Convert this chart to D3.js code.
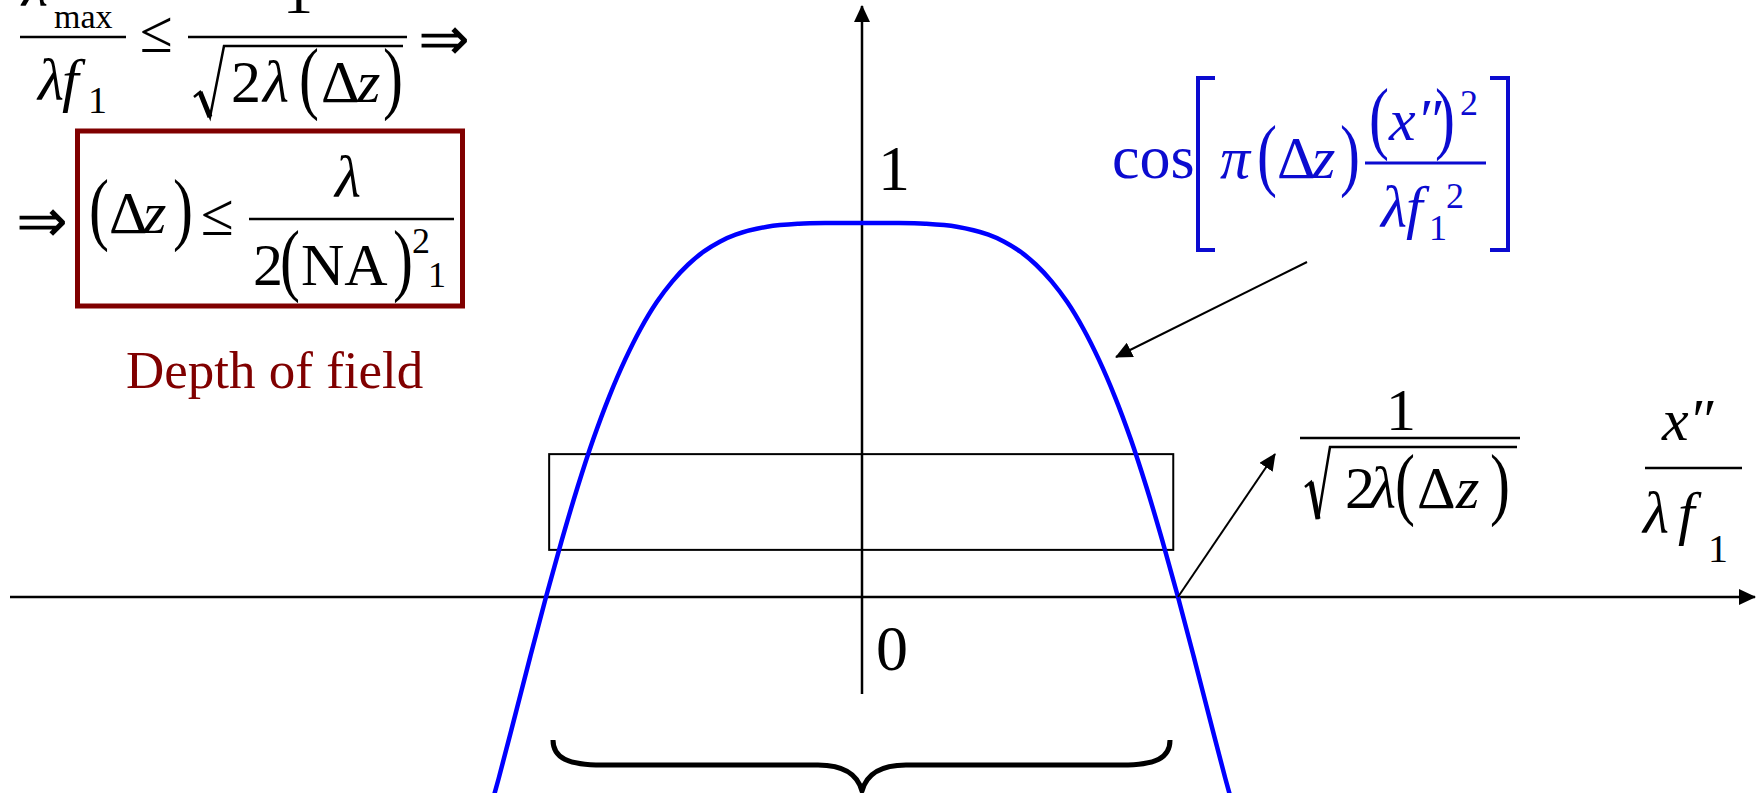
<!DOCTYPE html>
<html>
<head>
<meta charset="utf-8">
<script src="https://cdn.jsdelivr.net/npm/d3@7"></script>
<style>
  html, body { margin: 0; padding: 0; background: #fff; overflow: hidden; }
  svg { display: block; }
  text { font-family: "Liberation Serif", "Times New Roman", serif; }
</style>
</head>
<body>
<svg id="fig" width="1760" height="793"></svg>
<script>
// Pupil coordinate x''/(λ f1), normalised so the first zero of the defocus term sits at ±1
const pupilU = [-1.2, -1.15, -1.1, -1.05, -1.0, -0.95, -0.9, -0.85, -0.8, -0.75, -0.7, -0.65, -0.6, -0.55, -0.5, -0.45, -0.4,
                -0.3, -0.2, -0.1, 0, 0.1, 0.2, 0.3,
                0.4, 0.45, 0.5, 0.55, 0.6, 0.65, 0.7, 0.75, 0.8, 0.85, 0.9, 0.95, 1.0, 1.05, 1.1, 1.15, 1.2];
// Defocus transfer term cos[π(Δz)(x'')²/(λ f1²)] at those coordinates
const defocusTerm = [-0.637, -0.486, -0.324, -0.160, 0.000, 0.152, 0.294, 0.423, 0.536, 0.634, 0.718, 0.788, 0.844, 0.889, 0.924, 0.950, 0.969,
                     0.990, 0.998, 1.000, 1.000, 1.000, 0.998, 0.990,
                     0.969, 0.950, 0.924, 0.889, 0.844, 0.788, 0.718, 0.634, 0.536, 0.423, 0.294, 0.152, 0.000, -0.160, -0.324, -0.486, -0.637];
// Band marked by the rectangle (level range of the 1/sqrt(2λΔz) cut-off) and its half-width
const bandLevels = [0.126, 0.382];
const bandHalfWidth = [-0.99, 0.985];
const tickLabels = ["0", "1"];

const W = 1760, H = 793;
const svg = d3.select("#fig");
svg.append("rect").attr("width", W).attr("height", H).attr("fill", "#fff");

const x = d3.scaleLinear().domain([0, 1]).range([862, 1178]);
const y = d3.scaleLinear().domain([0, 1]).range([597, 223]);

const BLUE_TEXT = "#0b0bd0";
const MAROON = "#800000";

const defs = svg.append("defs");
defs.append("marker")
  .attr("id", "head")
  .attr("markerUnits", "userSpaceOnUse")
  .attr("markerWidth", 18).attr("markerHeight", 16)
  .attr("refX", 16).attr("refY", 8)
  .attr("orient", "auto")
  .append("path").attr("d", "M0,0 L17,8 L0,16 Z").attr("fill", "#000");

// axes
svg.append("line")
  .attr("x1", 10).attr("x2", 1755).attr("y1", y(0)).attr("y2", y(0))
  .attr("stroke", "#000").attr("stroke-width", 2.5).attr("marker-end", "url(#head)");
svg.append("line")
  .attr("x1", x(0)).attr("x2", x(0)).attr("y1", 694).attr("y2", 6)
  .attr("stroke", "#000").attr("stroke-width", 2.5).attr("marker-end", "url(#head)");

// band rectangle
svg.append("rect")
  .attr("x", x(bandHalfWidth[0])).attr("y", y(bandLevels[1]))
  .attr("width", x(bandHalfWidth[1]) - x(bandHalfWidth[0]))
  .attr("height", y(bandLevels[0]) - y(bandLevels[1]))
  .attr("fill", "none").attr("stroke", "#000").attr("stroke-width", 2);

// defocus curve
const pts = pupilU.map((u, i) => [u, defocusTerm[i]]);
svg.append("path")
  .datum(pts)
  .attr("d", d3.line().x(d => x(d[0])).y(d => y(d[1])).curve(d3.curveCatmullRom.alpha(0.5)))
  .attr("fill", "none").attr("stroke", "#0000ff").attr("stroke-width", 4.5);

// annotation arrows
svg.append("line").attr("x1", 1307).attr("y1", 262).attr("x2", 1116).attr("y2", 357)
  .attr("stroke", "#000").attr("stroke-width", 2).attr("marker-end", "url(#head)");
svg.append("line").attr("x1", x(1)).attr("y1", y(0)).attr("x2", 1275).attr("y2", 454)
  .attr("stroke", "#000").attr("stroke-width", 2).attr("marker-end", "url(#head)");

// brace under the flat region
svg.append("path")
  .attr("d", "M553,740 C553,758 568,765 602,765 L818,765 C845,765 858,776 862,791 " +
             "C866,776 879,765 906,765 L1122,765 C1156,765 1170,758 1170,740")
  .attr("fill", "none").attr("stroke", "#000").attr("stroke-width", 5).attr("stroke-linejoin", "round");

// text helpers
function tx(str, px, py, size, o = {}) {
  const n = svg.append("text").attr("x", px).attr("y", py).attr("font-size", size)
    .attr("fill", o.fill || "#000").text(str);
  if (o.it) n.attr("font-style", "italic");
  if (o.fam) n.attr("font-family", o.fam);
  if (o.bold) n.attr("font-weight", "bold");
  return n;
}
// tall delimiter: a regular parenthesis stretched vertically about its baseline
function paren(str, px, py, fill = "#000") {
  svg.append("text").attr("transform", `translate(${px},${py}) scale(1,1.35)`)
    .attr("font-size", 60).attr("fill", fill).text(str);
}
function bar(x1, x2, yy, w = 2.5, col = "#000") {
  svg.append("line").attr("x1", x1).attr("x2", x2).attr("y1", yy).attr("y2", yy)
    .attr("stroke", col).attr("stroke-width", w);
}
// radical sign: hook, heavy down-stroke, thin up-stroke and vinculum
function radical(hx, hy, bx, by, tx0, ty, ex) {
  svg.append("path").attr("d", `M${hx},${hy} L${hx + 6},${hy - 5} L${bx},${by} L${tx0},${ty} L${ex},${ty}`)
    .attr("fill", "none").attr("stroke", "#000").attr("stroke-width", 2.5).attr("stroke-linejoin", "miter");
  svg.append("path").attr("d", `M${hx + 6},${hy - 5} L${bx},${by}`)
    .attr("fill", "none").attr("stroke", "#000").attr("stroke-width", 5);
}
const ARW = "Noto Sans CJK JP";

// tick labels
tx(tickLabels[1], 878, 190, 64);
tx(tickLabels[0], 876, 670, 64);

// top-left: x_max/(λ f1) ≤ 1/sqrt(2λ(Δz)) ⇒
bar(20, 126, 37);
tx("λ", 22, 6, 60, { it: true });
tx("max", 54, 28, 34);
tx("λ", 38, 100, 60, { it: true });
tx("f", 62, 100, 60, { it: true });
tx("1", 88, 113, 38);
tx("≤", 140, 52, 60);
bar(188, 407, 37);
tx("1", 283, 13, 60);
radical(194, 97, 210, 117, 224, 46, 403);
tx("2", 231, 102, 60);
tx("λ", 263, 102, 60, { it: true });
paren("(", 299, 104);
tx("Δ", 321, 102, 60);
tx("z", 357, 102, 60, { it: true });
paren(")", 383, 104);
tx("⇒", 418, 60, 62, { fam: ARW });

// second line: ⇒ [(Δz) ≤ λ / 2(NA)²₁]
tx("⇒", 16, 242, 62, { fam: ARW });
svg.append("rect").attr("x", 77.5).attr("y", 131).attr("width", 385).attr("height", 175)
  .attr("fill", "none").attr("stroke", MAROON).attr("stroke-width", 5);
paren("(", 89, 235);
tx("Δ", 109, 233, 60);
tx("z", 143, 233, 60, { it: true });
paren(")", 173, 235);
tx("≤", 201, 235, 60);
bar(249, 454, 219);
tx("λ", 335, 197, 60, { it: true });
tx("2", 253, 285, 60);
paren("(", 280, 286);
tx("NA", 301, 285, 60);
paren(")", 393, 286);
tx("2", 412, 253, 36);
tx("1", 428, 287, 36);
tx("Depth of field", 126, 388, 53, { fill: MAROON });

// blue label: cos[π(Δz)(x'')²/(λ f1²)]
tx("cos", 1112, 178, 62, { fill: BLUE_TEXT });
svg.append("path").attr("d", "M1215,78 L1198,78 L1198,250 L1215,250")
  .attr("fill", "none").attr("stroke", BLUE_TEXT).attr("stroke-width", 4);
svg.append("path").attr("d", "M1490,78 L1508,78 L1508,250 L1490,250")
  .attr("fill", "none").attr("stroke", BLUE_TEXT).attr("stroke-width", 4);
tx("π", 1220, 178, 60, { it: true, fill: BLUE_TEXT });
paren("(", 1257, 181, BLUE_TEXT);
tx("Δ", 1277, 178, 60, { fill: BLUE_TEXT });
tx("z", 1312, 178, 60, { it: true, fill: BLUE_TEXT });
paren(")", 1340, 181, BLUE_TEXT);
bar(1365, 1486, 163, 3, BLUE_TEXT);
paren("(", 1369, 144, BLUE_TEXT);
tx("x", 1389, 140, 60, { it: true, fill: BLUE_TEXT });
tx("″", 1420, 140, 60, { fill: BLUE_TEXT });
paren(")", 1435, 144, BLUE_TEXT);
tx("2", 1460, 115, 36, { fill: BLUE_TEXT });
tx("λ", 1381, 227, 60, { it: true, fill: BLUE_TEXT });
tx("f", 1406, 227, 60, { it: true, fill: BLUE_TEXT });
tx("1", 1429, 240, 36, { fill: BLUE_TEXT });
tx("2", 1446, 208, 36, { fill: BLUE_TEXT });

// right label: 1/sqrt(2λ(Δz))
tx("1", 1386, 430, 60);
bar(1300, 1520, 438);
radical(1305, 487, 1318, 519, 1330, 447, 1517);
tx("2", 1345, 508, 60);
tx("λ", 1370, 508, 60, { it: true });
paren("(", 1395, 510);
tx("Δ", 1417, 508, 60);
tx("z", 1456, 508, 60, { it: true });
paren(")", 1490, 510);

// axis label x''/(λ f1)
tx("x", 1662, 440, 60, { it: true });
tx("″", 1692, 440, 60);
bar(1645, 1742, 468);
tx("λ", 1643, 533, 60, { it: true });
tx("f", 1678, 533, 60, { it: true });
tx("1", 1708, 562, 40);
</script>
</body>
</html>
